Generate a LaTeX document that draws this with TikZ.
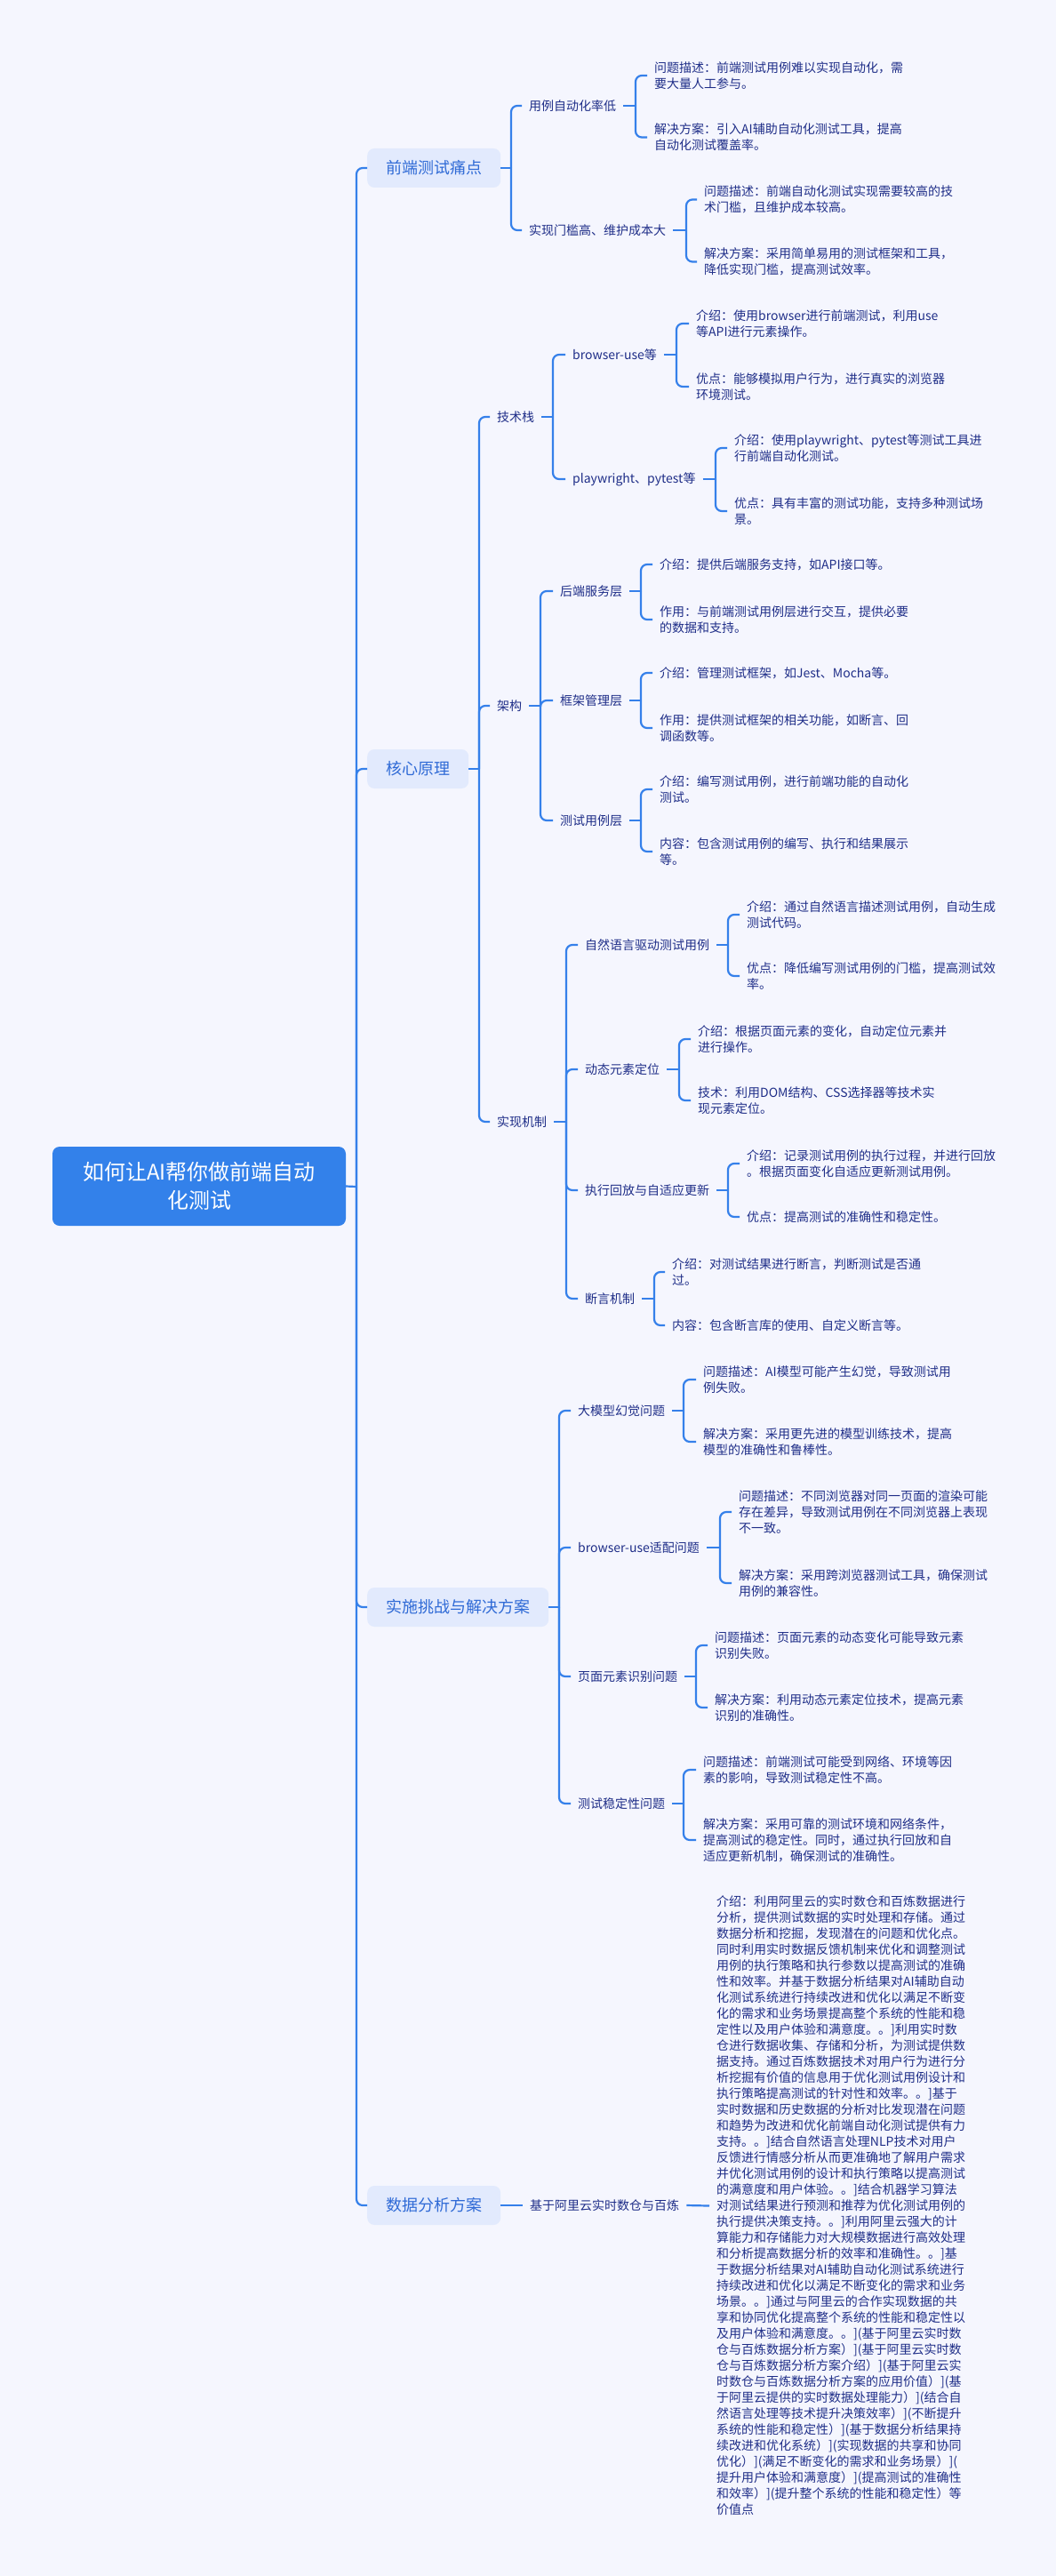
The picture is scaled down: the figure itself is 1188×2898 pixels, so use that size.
\documentclass[tikz,border=0pt]{standalone}
\usepackage{fontspec}
\setmainfont{Noto Sans CJK SC}
\definecolor{bgc}{HTML}{F5F6FE}
\definecolor{linec}{HTML}{3580EA}
\definecolor{rootc}{HTML}{3381EA}
\definecolor{lfill}{HTML}{E2EAFD}
\definecolor{ltext}{HTML}{2F6AD6}
\definecolor{txt}{HTML}{1F2E88}
\begin{document}
\begin{tikzpicture}[x=1pt,y=-1pt,
  conn/.style={draw=linec, line width=2.2pt, rounded corners=7pt},
  rootbox/.style={fill=rootc, text=white, rounded corners=8pt, font=\fontsize{24}{32}\selectfont, align=center, minimum width=330pt, minimum height=89pt, inner sep=0pt},
  lonebox/.style={fill=lfill, text=ltext, rounded corners=8pt, font=\fontsize{18}{22}\selectfont, minimum height=44pt, inner xsep=21pt, inner ysep=0pt, anchor=west},
  ltwo/.style={text=txt, font=\fontsize{14}{18}\selectfont, anchor=west, inner xsep=8pt, inner ysep=2pt, xshift=-8pt},
  leaf/.style={ltwo, align=left}]
\useasboundingbox (0,0) rectangle (1188,2898);
\fill[bgc] (0,0) rectangle (1188,2898);

% root
\node[rootbox] (root) at (224,1334.5) {如何让AI帮你做前端自动\\化测试};
\coordinate (j0) at (401,1335);
\draw[conn] (root.east) -- (j0);

% level 1
\node[lonebox] (n1) at (413,189) {前端测试痛点};
\node[lonebox] (n2) at (413,865) {核心原理};
\node[lonebox] (n3) at (413,1808) {实施挑战与解决方案};
\node[lonebox] (n4) at (413,2481) {数据分析方案};
\foreach \n in {n1,n2,n3,n4} \draw[conn] (j0) |- (\n.west);

% ---------- n1
\node[ltwo] (a1) at (595,119) {用例自动化率低};
\node[ltwo] (a2) at (595,259) {实现门槛高、维护成本大};
\coordinate (ja) at (575,189);
\draw[conn] (n1.east) -- (ja);
\draw[conn] (ja) |- (a1.west);
\draw[conn] (ja) |- (a2.west);

\node[leaf] (a1l1) at (736,85) {问题描述：前端测试用例难以实现自动化，需\\要大量人工参与。};
\node[leaf] (a1l2) at (736,154.5) {解决方案：引入AI辅助自动化测试工具，提高\\自动化测试覆盖率。};
\coordinate (ja1) at (715,119);
\draw[conn] (a1.east) -- (ja1);
\draw[conn] (ja1) |- (a1l1.west);
\draw[conn] (ja1) |- (a1l2.west);

\node[leaf] (a2l1) at (792,224.5) {问题描述：前端自动化测试实现需要较高的技\\术门槛，且维护成本较高。};
\node[leaf] (a2l2) at (792,294.5) {解决方案：采用简单易用的测试框架和工具，\\降低实现门槛，提高测试效率。};
\coordinate (ja2) at (772,259);
\draw[conn] (a2.east) -- (ja2);
\draw[conn] (ja2) |- (a2l1.west);
\draw[conn] (ja2) |- (a2l2.west);

% ---------- n2
\node[ltwo] (b1) at (559,469) {技术栈};
\node[ltwo] (b2) at (559,794) {架构};
\node[ltwo] (b3) at (559,1262) {实现机制};
\coordinate (jb) at (539,865);
\draw[conn] (n2.east) -- (jb);
\foreach \n in {b1,b2,b3} \draw[conn] (jb) |- (\n.west);

% tech stack
\node[ltwo] (b11) at (644,399) {browser-use等};
\node[ltwo] (b12) at (644,539) {playwright、pytest等};
\coordinate (jb1) at (622,469);
\draw[conn] (b1.east) -- (jb1);
\draw[conn] (jb1) |- (b11.west);
\draw[conn] (jb1) |- (b12.west);

\node[leaf] (b11l1) at (783,364) {介绍：使用browser进行前端测试，利用use\\等API进行元素操作。};
\node[leaf] (b11l2) at (783,435) {优点：能够模拟用户行为，进行真实的浏览器\\环境测试。};
\coordinate (jb11) at (761,399);
\draw[conn] (b11.east) -- (jb11);
\draw[conn] (jb11) |- (b11l1.west);
\draw[conn] (jb11) |- (b11l2.west);

\node[leaf] (b12l1) at (826,504) {介绍：使用playwright、pytest等测试工具进\\行前端自动化测试。};
\node[leaf] (b12l2) at (826,575) {优点：具有丰富的测试功能，支持多种测试场\\景。};
\coordinate (jb12) at (805,539);
\draw[conn] (b12.east) -- (jb12);
\draw[conn] (jb12) |- (b12l1.west);
\draw[conn] (jb12) |- (b12l2.west);

% architecture
\node[ltwo] (b21) at (630,665) {后端服务层};
\node[ltwo] (b22) at (630,788) {框架管理层};
\node[ltwo] (b23) at (630,923) {测试用例层};
\coordinate (jb2) at (608,794);
\draw[conn] (b2.east) -- (jb2);
\foreach \n in {b21,b22,b23} \draw[conn] (jb2) |- (\n.west);

\node[leaf] (b21l1) at (742,635) {介绍：提供后端服务支持，如API接口等。};
\node[leaf] (b21l2) at (742,697) {作用：与前端测试用例层进行交互，提供必要\\的数据和支持。};
\coordinate (jb21) at (721,665);
\draw[conn] (b21.east) -- (jb21);
\draw[conn] (jb21) |- (b21l1.west);
\draw[conn] (jb21) |- (b21l2.west);

\node[leaf] (b22l1) at (742,757) {介绍：管理测试框架，如Jest、Mocha等。};
\node[leaf] (b22l2) at (742,819) {作用：提供测试框架的相关功能，如断言、回\\调函数等。};
\coordinate (jb22) at (721,788);
\draw[conn] (b22.east) -- (jb22);
\draw[conn] (jb22) |- (b22l1.west);
\draw[conn] (jb22) |- (b22l2.west);

\node[leaf] (b23l1) at (742,888) {介绍：编写测试用例，进行前端功能的自动化\\测试。};
\node[leaf] (b23l2) at (742,958) {内容：包含测试用例的编写、执行和结果展示\\等。};
\coordinate (jb23) at (721,923);
\draw[conn] (b23.east) -- (jb23);
\draw[conn] (jb23) |- (b23l1.west);
\draw[conn] (jb23) |- (b23l2.west);

% mechanism
\node[ltwo] (b31) at (658,1063) {自然语言驱动测试用例};
\node[ltwo] (b32) at (658,1203) {动态元素定位};
\node[ltwo] (b33) at (658,1339) {执行回放与自适应更新};
\node[ltwo] (b34) at (658,1461) {断言机制};
\coordinate (jb3) at (637,1262);
\draw[conn] (b3.east) -- (jb3);
\foreach \n in {b31,b32,b33,b34} \draw[conn] (jb3) |- (\n.west);

\node[leaf] (b31l1) at (840,1029) {介绍：通过自然语言描述测试用例，自动生成\\测试代码。};
\node[leaf] (b31l2) at (840,1098) {优点：降低编写测试用例的门槛，提高测试效\\率。};
\coordinate (jb31) at (819,1063);
\draw[conn] (b31.east) -- (jb31);
\draw[conn] (jb31) |- (b31l1.west);
\draw[conn] (jb31) |- (b31l2.west);

\node[leaf] (b32l1) at (785,1169) {介绍：根据页面元素的变化，自动定位元素并\\进行操作。};
\node[leaf] (b32l2) at (785,1238) {技术：利用DOM结构、CSS选择器等技术实\\现元素定位。};
\coordinate (jb32) at (764,1203);
\draw[conn] (b32.east) -- (jb32);
\draw[conn] (jb32) |- (b32l1.west);
\draw[conn] (jb32) |- (b32l2.west);

\node[leaf] (b33l1) at (840,1309) {介绍：记录测试用例的执行过程，并进行回放\\。根据页面变化自适应更新测试用例。};
\node[leaf] (b33l2) at (840,1369) {优点：提高测试的准确性和稳定性。};
\coordinate (jb33) at (819,1339);
\draw[conn] (b33.east) -- (jb33);
\draw[conn] (jb33) |- (b33l1.west);
\draw[conn] (jb33) |- (b33l2.west);

\node[leaf] (b34l1) at (756,1431) {介绍：对测试结果进行断言，判断测试是否通\\过。};
\node[leaf] (b34l2) at (756,1491) {内容：包含断言库的使用、自定义断言等。};
\coordinate (jb34) at (736,1461);
\draw[conn] (b34.east) -- (jb34);
\draw[conn] (jb34) |- (b34l1.west);
\draw[conn] (jb34) |- (b34l2.west);

% ---------- n3
\node[ltwo] (c1) at (650,1587) {大模型幻觉问题};
\node[ltwo] (c2) at (650,1741) {browser-use适配问题};
\node[ltwo] (c3) at (650,1886) {页面元素识别问题};
\node[ltwo] (c4) at (650,2029) {测试稳定性问题};
\coordinate (jc) at (629,1808);
\draw[conn] (n3.east) -- (jc);
\foreach \n in {c1,c2,c3,c4} \draw[conn] (jc) |- (\n.west);

\node[leaf] (c1l1) at (791,1552) {问题描述：AI模型可能产生幻觉，导致测试用\\例失败。};
\node[leaf] (c1l2) at (791,1622) {解决方案：采用更先进的模型训练技术，提高\\模型的准确性和鲁棒性。};
\coordinate (jc1) at (769,1587);
\draw[conn] (c1.east) -- (jc1);
\draw[conn] (jc1) |- (c1l1.west);
\draw[conn] (jc1) |- (c1l2.west);

\node[leaf] (c2l1) at (831,1701) {问题描述：不同浏览器对同一页面的渲染可能\\存在差异，导致测试用例在不同浏览器上表现\\不一致。};
\node[leaf] (c2l2) at (831,1781) {解决方案：采用跨浏览器测试工具，确保测试\\用例的兼容性。};
\coordinate (jc2) at (810,1741);
\draw[conn] (c2.east) -- (jc2);
\draw[conn] (jc2) |- (c2l1.west);
\draw[conn] (jc2) |- (c2l2.west);

\node[leaf] (c3l1) at (804,1851) {问题描述：页面元素的动态变化可能导致元素\\识别失败。};
\node[leaf] (c3l2) at (804,1921) {解决方案：利用动态元素定位技术，提高元素\\识别的准确性。};
\coordinate (jc3) at (783,1886);
\draw[conn] (c3.east) -- (jc3);
\draw[conn] (jc3) |- (c3l1.west);
\draw[conn] (jc3) |- (c3l2.west);

\node[leaf] (c4l1) at (791,1991) {问题描述：前端测试可能受到网络、环境等因\\素的影响，导致测试稳定性不高。};
\node[leaf] (c4l2) at (791,2070) {解决方案：采用可靠的测试环境和网络条件，\\提高测试的稳定性。同时，通过执行回放和自\\适应更新机制，确保测试的准确性。};
\coordinate (jc4) at (769,2029);
\draw[conn] (c4.east) -- (jc4);
\draw[conn] (jc4) |- (c4l1.west);
\draw[conn] (jc4) |- (c4l2.west);

% ---------- n4
\node[ltwo] (d1) at (596,2481) {基于阿里云实时数仓与百炼};
\draw[conn] (n4.east) -- (d1.west);
\node[leaf] (d1l) at (806,2481.5) {介绍：利用阿里云的实时数仓和百炼数据进行\\
分析，提供测试数据的实时处理和存储。通过\\
数据分析和挖掘，发现潜在的问题和优化点。\\
同时利用实时数据反馈机制来优化和调整测试\\
用例的执行策略和执行参数以提高测试的准确\\
性和效率。并基于数据分析结果对AI辅助自动\\
化测试系统进行持续改进和优化以满足不断变\\
化的需求和业务场景提高整个系统的性能和稳\\
定性以及用户体验和满意度。。]利用实时数\\
仓进行数据收集、存储和分析，为测试提供数\\
据支持。通过百炼数据技术对用户行为进行分\\
析挖掘有价值的信息用于优化测试用例设计和\\
执行策略提高测试的针对性和效率。。]基于\\
实时数据和历史数据的分析对比发现潜在问题\\
和趋势为改进和优化前端自动化测试提供有力\\
支持。。]结合自然语言处理NLP技术对用户\\
反馈进行情感分析从而更准确地了解用户需求\\
并优化测试用例的设计和执行策略以提高测试\\
的满意度和用户体验。。]结合机器学习算法\\
对测试结果进行预测和推荐为优化测试用例的\\
执行提供决策支持。。]利用阿里云强大的计\\
算能力和存储能力对大规模数据进行高效处理\\
和分析提高数据分析的效率和准确性。。]基\\
于数据分析结果对AI辅助自动化测试系统进行\\
持续改进和优化以满足不断变化的需求和业务\\
场景。。]通过与阿里云的合作实现数据的共\\
享和协同优化提高整个系统的性能和稳定性以\\
及用户体验和满意度。。](基于阿里云实时数\\
仓与百炼数据分析方案）](基于阿里云实时数\\
仓与百炼数据分析方案介绍）](基于阿里云实\\
时数仓与百炼数据分析方案的应用价值）](基\\
于阿里云提供的实时数据处理能力）](结合自\\
然语言处理等技术提升决策效率）](不断提升\\
系统的性能和稳定性）](基于数据分析结果持\\
续改进和优化系统）](实现数据的共享和协同\\
优化）](满足不断变化的需求和业务场景）](\\
提升用户体验和满意度）](提高测试的准确性\\
和效率）](提升整个系统的性能和稳定性）等\\
价值点};
\draw[conn] (d1.east) -- (d1l.west);
\end{tikzpicture}
\end{document}
